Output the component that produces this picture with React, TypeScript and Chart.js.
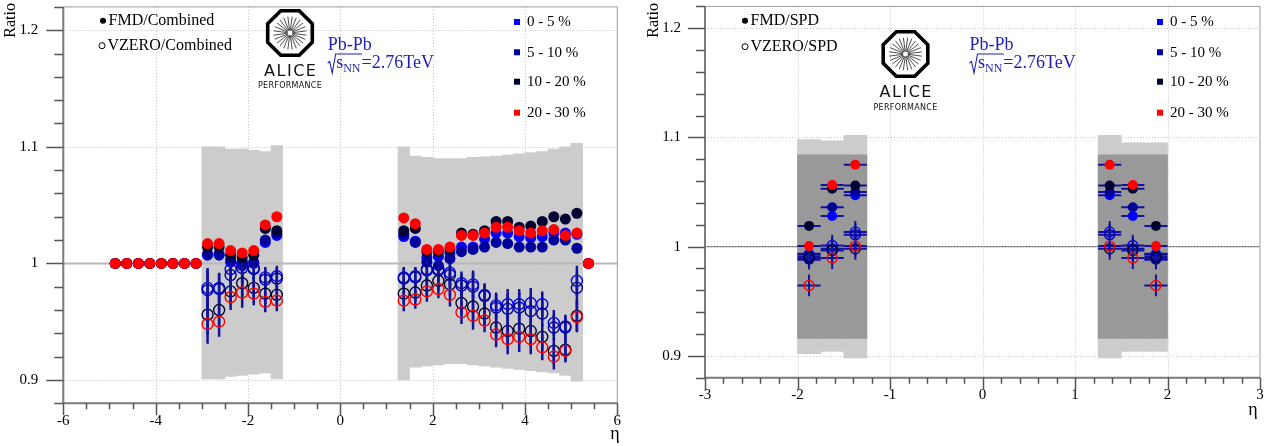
import React, { useEffect, useRef } from "react";
import { Chart, registerables } from "chart.js";

Chart.register(...registerables);

const SERIF = "'Liberation Serif', 'Times New Roman', serif";
const SANS = "'DejaVu Sans', 'Liberation Sans', sans-serif";

// ---------- common ----------
const centralityLabels = ["0 - 5 %", "5 - 10 %", "10 - 20 %", "20 - 30 %"];
const centralityColors = ["#0000ff", "#00009a", "#000033", "#ff0000"];
const errorColor = "#12129c";
const yTickValues = [0.9, 1.0, 1.1, 1.2];

// ---------- left panel: ratio to Combined ----------
const leftXTicks = [-6, -4, -2, 0, 2, 4, 6];
const leftUnityX = [-6, 6];
const fmdOnlyEta = [-4.875, -4.625, -4.375, -4.125, -3.875, -3.625, -3.375, -3.125, 5.375];
const fmdOnlyRatio = [1, 1, 1, 1, 1, 1, 1, 1, 1];
const etaNeg = [-2.875, -2.625, -2.375, -2.125, -1.875, -1.625, -1.375];
const etaPos = [1.375, 1.625, 1.875, 2.125, 2.375, 2.625, 2.875, 3.125, 3.375, 3.625, 3.875, 4.125, 4.375, 4.625, 4.875, 5.125];

const sysUpNeg = [0.1, 0.1, 0.098, 0.098, 0.097, 0.096, 0.101];
const sysDownNeg = [0.099, 0.099, 0.097, 0.096, 0.095, 0.094, 0.099];
const sysUpPos = [0.1, 0.092, 0.091, 0.09, 0.09, 0.09, 0.091, 0.0915, 0.092, 0.093, 0.094, 0.095, 0.096, 0.098, 0.1, 0.103];
const sysDownPos = [0.1, 0.089, 0.088, 0.087, 0.086, 0.086, 0.087, 0.088, 0.089, 0.09, 0.091, 0.092, 0.093, 0.094, 0.096, 0.101];

const fmdNeg0to5 = [1.007, 1.007, 1.001, 0.998, 1.0, 1.018, 1.024];
const fmdNeg5to10 = [1.008, 1.008, 1.003, 0.999, 1.001, 1.02, 1.026];
const fmdNeg10to20 = [1.014, 1.014, 1.007, 1.005, 1.007, 1.03, 1.028];
const fmdNeg20to30 = [1.017, 1.017, 1.011, 1.009, 1.011, 1.033, 1.04];

const fmdPos0to5 = [1.023, 1.019, 1.005, 1.006, 1.009, 1.014, 1.014, 1.021, 1.026, 1.026, 1.023, 1.022, 1.023, 1.026, 1.026, 1.025];
const fmdPos5to10 = [1.025, 1.018, 1.001, 0.998, 1.004, 1.01, 1.012, 1.014, 1.018, 1.017, 1.014, 1.014, 1.014, 1.02, 1.02, 1.013];
const fmdPos10to20 = [1.028, 1.03, 1.01, 1.01, 1.012, 1.026, 1.025, 1.028, 1.036, 1.036, 1.031, 1.032, 1.036, 1.04, 1.038, 1.043];
const fmdPos20to30 = [1.039, 1.034, 1.012, 1.012, 1.014, 1.024, 1.024, 1.026, 1.031, 1.031, 1.028, 1.026, 1.028, 1.029, 1.024, 1.026];

const vzNeg0to5 = [0.979, 0.979, 0.995, 1.0, 0.996, 0.988, 0.989];
const vzNeg5to10 = [0.977, 0.978, 0.99, 0.996, 0.995, 0.986, 0.987];
const vzNeg10to20 = [0.956, 0.96, 0.976, 0.983, 0.979, 0.974, 0.973];
const vzNeg20to30 = [0.948, 0.95, 0.971, 0.975, 0.974, 0.967, 0.968];
const vzErrNeg = [0.017, 0.013, 0.011, 0.013, 0.01, 0.009, 0.009];

const vzPos0to5 = [0.988, 0.989, 0.995, 0.995, 0.992, 0.983, 0.982, 0.973, 0.964, 0.965, 0.965, 0.966, 0.965, 0.949, 0.946, 0.985];
const vzPos5to10 = [0.987, 0.988, 0.994, 0.994, 0.99, 0.981, 0.98, 0.972, 0.962, 0.961, 0.962, 0.959, 0.957, 0.945, 0.945, 0.979];
const vzPos10to20 = [0.974, 0.975, 0.981, 0.985, 0.982, 0.966, 0.963, 0.957, 0.945, 0.942, 0.944, 0.942, 0.937, 0.925, 0.926, 0.955];
const vzPos20to30 = [0.968, 0.969, 0.976, 0.978, 0.973, 0.958, 0.955, 0.951, 0.939, 0.935, 0.937, 0.935, 0.928, 0.92, 0.925, 0.954];
const vzErrPos = [0.009, 0.008, 0.009, 0.008, 0.01, 0.01, 0.012, 0.01, 0.011, 0.013, 0.013, 0.013, 0.011, 0.011, 0.01, 0.013];

// ---------- right panel: ratio to SPD ----------
const rightXTicks = [-3, -2, -1, 0, 1, 2, 3];
const rightUnityX = [-3, 3];
const etaSpd = [-1.875, -1.625, -1.375, 1.375, 1.625, 1.875];
const spdHalfWidth = 0.125;
const spdOuterUp = [0.098, 0.097, 0.102, 0.102, 0.095, 0.095];
const spdOuterDown = [0.098, 0.096, 0.102, 0.102, 0.096, 0.096];
const spdInner = [0.084, 0.084, 0.084, 0.084, 0.084, 0.084];

const fmdSpd0to5 = [0.9935, 1.028, 1.047, 1.047, 1.028, 0.9935];
const fmdSpd5to10 = [0.988, 1.036, 1.05, 1.05, 1.036, 0.988];
const fmdSpd10to20 = [1.019, 1.053, 1.056, 1.056, 1.053, 1.019];
const fmdSpd20to30 = [1.0005, 1.0565, 1.075, 1.075, 1.0565, 1.0005];
const fmdSpdErr = [0.003, 0.003, 0.003, 0.003, 0.003, 0.003];

const vzSpd0to5 = [0.9925, 1.001, 1.0135, 1.0135, 1.001, 0.9925];
const vzSpd5to10 = [0.989, 0.998, 1.011, 1.011, 0.998, 0.989];
const vzSpd10to20 = [0.9905, 0.9965, 0.998, 0.998, 0.9965, 0.9905];
const vzSpd20to30 = [0.9645, 0.9895, 1.0005, 1.0005, 0.9895, 0.9645];
const vzSpdErr = [0.01, 0.01, 0.01, 0.01, 0.01, 0.01];

// ---------- types ----------
interface Band { x: number[]; up: number[]; down: number[]; color: string }
interface Series { x: number[]; y: number[]; ey?: number[]; ex?: number; filled: boolean; color: string; order: number }
interface Deco {
  ratioX: number; etaX: number; etaY: number;
  detLegend: { x: number; y: number; text: string; filled: boolean }[];
  centX: number; centY: number[];
  logo: { cx: number; cy: number; aliceY: number; perfY: number };
  pbX: number; pbY: number; sqrtY: number;
}
interface Panel {
  id: string; width: number; height: number;
  area: { left: number; right: number; top: number; bottom: number };
  xMin: number; xMax: number; xTicks: number[]; xMinor: number;
  yMin: number; yMax: number; yTicks: number[]; yMinor: number;
  xTickLen: number[]; yTickLen: number[]; xLabelPad: number; yLabelPad: number;
  bands: Band[]; unityX: number[]; unityColor: string; unityWidth: number;
  series: Series[]; markerRadius: number; errWidth: number; deco: Deco;
}

const fmdNegSets = [fmdNeg0to5, fmdNeg5to10, fmdNeg10to20, fmdNeg20to30];
const fmdPosSets = [fmdPos0to5, fmdPos5to10, fmdPos10to20, fmdPos20to30];
const vzNegSets = [vzNeg0to5, vzNeg5to10, vzNeg10to20, vzNeg20to30];
const vzPosSets = [vzPos0to5, vzPos5to10, vzPos10to20, vzPos20to30];
const fmdSpdSets = [fmdSpd0to5, fmdSpd5to10, fmdSpd10to20, fmdSpd20to30];
const vzSpdSets = [vzSpd0to5, vzSpd5to10, vzSpd10to20, vzSpd20to30];

const leftSeries: Series[] = [];
const rightSeries: Series[] = [];
for (let c = 0; c < 4; c++) {
  leftSeries.push({
    x: fmdOnlyEta.concat(etaNeg, etaPos), y: fmdOnlyRatio.concat(fmdNegSets[c], fmdPosSets[c]),
    filled: true, color: centralityColors[c], order: 100 - c * 10,
  });
  leftSeries.push({
    x: etaNeg.concat(etaPos), y: vzNegSets[c].concat(vzPosSets[c]), ey: vzErrNeg.concat(vzErrPos),
    filled: false, color: centralityColors[c], order: 95 - c * 10,
  });
  rightSeries.push({ x: etaSpd, y: fmdSpdSets[c], ey: fmdSpdErr, ex: spdHalfWidth, filled: true, color: centralityColors[c], order: 100 - c * 10 });
  rightSeries.push({ x: etaSpd, y: vzSpdSets[c], ey: vzSpdErr, ex: spdHalfWidth, filled: false, color: centralityColors[c], order: 95 - c * 10 });
}

const leftPanel: Panel = {
  id: "left", width: 640, height: 446,
  area: { left: 63.3, right: 617.3, top: 3.3, bottom: 403.3 },
  xMin: -6, xMax: 6, xTicks: leftXTicks, xMinor: 0.5,
  yMin: 0.88, yMax: 1.22, yTicks: yTickValues, yMinor: 0.02,
  xTickLen: [12, 6], yTickLen: [17, 9], xLabelPad: 9, yLabelPad: 25,
  bands: [{ x: etaNeg.concat(etaPos), up: sysUpNeg.concat(sysUpPos), down: sysDownNeg.concat(sysDownPos), color: "#cccccc" }],
  unityX: leftUnityX, unityColor: "#b8b8b8", unityWidth: 2,
  series: leftSeries, markerRadius: 5.5, errWidth: 2.5,
  deco: {
    ratioX: 10.5, etaX: 615, etaY: 434,
    detLegend: [
      { x: 103, y: 20.7, text: "FMD/Combined", filled: true },
      { x: 102, y: 45.7, text: "VZERO/Combined", filled: false },
    ],
    centX: 517, centY: [22, 52.3, 81.7, 112.7],
    logo: { cx: 290, cy: 33, aliceY: 75.7, perfY: 88.3 },
    pbX: 327.7, pbY: 50, sqrtY: 68,
  },
};

const rightPanel: Panel = {
  id: "right", width: 641, height: 446,
  area: { left: 65, right: 620, top: 3.3, bottom: 377.7 },
  xMin: -3, xMax: 3, xTicks: rightXTicks, xMinor: 0.2,
  yMin: 0.88, yMax: 1.22, yTicks: yTickValues, yMinor: 0.02,
  xTickLen: [12, 6], yTickLen: [17, 9], xLabelPad: 8, yLabelPad: 24,
  bands: [
    { x: etaSpd, up: spdOuterUp, down: spdOuterDown, color: "#cccccc" },
    { x: etaSpd, up: spdInner, down: spdInner, color: "#999999" },
  ],
  unityX: rightUnityX, unityColor: "#7a7a7a", unityWidth: 1,
  series: rightSeries, markerRadius: 5, errWidth: 2,
  deco: {
    ratioX: 14, etaX: 613, etaY: 410,
    detLegend: [
      { x: 105, y: 20.7, text: "FMD/SPD", filled: true },
      { x: 105, y: 46.7, text: "VZERO/SPD", filled: false },
    ],
    centX: 520, centY: [22, 52.3, 81.7, 112.7],
    logo: { cx: 265.5, cy: 54, aliceY: 97, perfY: 109.5 },
    pbX: 329.5, pbY: 50, sqrtY: 68,
  },
};

// ---------- drawing helpers ----------
function drawAlice(ctx: CanvasRenderingContext2D, l: Deco["logo"]) {
  const { cx, cy } = l;
  const ap = 22.3; // apothem of octagon path
  const R = ap / Math.cos(Math.PI / 8);
  ctx.save();
  ctx.strokeStyle = "#000";
  ctx.lineWidth = 3.6;
  ctx.lineJoin = "miter";
  ctx.beginPath();
  for (let k = 0; k < 8; k++) {
    const a = Math.PI / 8 + (k * Math.PI) / 4;
    const px = cx + R * Math.cos(a);
    const py = cy + R * Math.sin(a);
    if (k === 0) ctx.moveTo(px, py); else ctx.lineTo(px, py);
  }
  ctx.closePath();
  ctx.stroke();
  ctx.lineWidth = 0.8;
  ctx.strokeStyle = "#222";
  ctx.beginPath();
  for (let k = 0; k < 24; k++) {
    const a = (k * Math.PI) / 12 + Math.PI / 24;
    ctx.moveTo(cx + 2.5 * Math.cos(a), cy + 2.5 * Math.sin(a));
    ctx.lineTo(cx + 16.5 * Math.cos(a), cy + 16.5 * Math.sin(a));
  }
  ctx.stroke();
  ctx.fillStyle = "#111";
  ctx.textAlign = "center";
  ctx.textBaseline = "alphabetic";
  ctx.font = `16px ${SANS}`;
  (ctx as any).letterSpacing = "1.5px";
  ctx.fillText("ALICE", cx + 0.75, l.aliceY);
  ctx.font = `8px ${SANS}`;
  (ctx as any).letterSpacing = "0.3px";
  ctx.fillText("PERFORMANCE", cx, l.perfY);
  (ctx as any).letterSpacing = "0px";
  ctx.restore();
}

function drawCollision(ctx: CanvasRenderingContext2D, d: Deco) {
  const col = "#1e1eb4";
  ctx.save();
  ctx.fillStyle = col;
  ctx.strokeStyle = col;
  ctx.textAlign = "left";
  ctx.textBaseline = "alphabetic";
  ctx.font = `18px ${SERIF}`;
  ctx.fillText("Pb-Pb", d.pbX, d.pbY);
  const x = d.pbX;
  const base = d.sqrtY;
  ctx.font = `18px ${SERIF}`;
  const sW = ctx.measureText("s").width;
  ctx.font = `12px ${SERIF}`;
  const nnW = ctx.measureText("NN").width;
  const rx = x + 8;
  ctx.lineWidth = 1.1;
  ctx.beginPath();
  ctx.moveTo(x, base - 5);
  ctx.lineTo(x + 2, base - 6.5);
  ctx.lineTo(x + 4.5, base + 5);
  ctx.lineTo(rx, base - 14);
  ctx.lineTo(rx + sW + nnW + 2, base - 14);
  ctx.stroke();
  ctx.font = `18px ${SERIF}`;
  ctx.fillText("s", rx + 0.5, base);
  ctx.font = `12px ${SERIF}`;
  ctx.fillText("NN", rx + 0.5 + sW, base + 3.5);
  ctx.font = `18px ${SERIF}`;
  ctx.fillText("=2.76TeV", rx + 1.5 + sW + nnW, base);
  ctx.restore();
}

function makePlugin(p: Panel) {
  return {
    id: "rootStyle_" + p.id,
    beforeDatasetsDraw(chart: any) {
      const ctx: CanvasRenderingContext2D = chart.ctx;
      const xs = chart.scales.x, ys = chart.scales.y;
      const a = chart.chartArea;
      ctx.save();
      ctx.strokeStyle = "#c4c4c4";
      ctx.lineWidth = 1;
      ctx.setLineDash([1, 2]);
      ctx.beginPath();
      p.xTicks.forEach((v) => {
        if (v <= p.xMin || v >= p.xMax) return;
        const px = Math.round(xs.getPixelForValue(v)) + 0.5;
        ctx.moveTo(px, a.top); ctx.lineTo(px, a.bottom);
      });
      p.yTicks.forEach((v) => {
        const py = Math.round(ys.getPixelForValue(v)) + 0.5;
        ctx.moveTo(a.left, py); ctx.lineTo(a.right, py);
      });
      ctx.stroke();
      ctx.restore();
    },
    beforeDatasetDraw(chart: any, args: any) {
      const ds = chart.data.datasets[args.index];
      if (!ds.errInfo) return;
      const ctx: CanvasRenderingContext2D = chart.ctx;
      const xs = chart.scales.x, ys = chart.scales.y;
      const a = chart.chartArea;
      ctx.save();
      ctx.beginPath();
      ctx.rect(a.left, a.top, a.right - a.left, a.bottom - a.top);
      ctx.clip();
      ctx.strokeStyle = errorColor;
      ctx.lineWidth = p.errWidth;
      ctx.beginPath();
      ds.data.forEach((d: any) => {
        const px = xs.getPixelForValue(d.x);
        const py = ys.getPixelForValue(d.y);
        if (d.ey) {
          ctx.moveTo(px, ys.getPixelForValue(d.y - d.ey));
          ctx.lineTo(px, ys.getPixelForValue(d.y + d.ey));
        }
        if (d.ex) {
          ctx.moveTo(xs.getPixelForValue(d.x - d.ex), py);
          ctx.lineTo(xs.getPixelForValue(d.x + d.ex), py);
        }
      });
      ctx.stroke();
      ctx.restore();
    },
    afterDatasetsDraw(chart: any) {
      const ctx: CanvasRenderingContext2D = chart.ctx;
      const xs = chart.scales.x, ys = chart.scales.y;
      const a = chart.chartArea;
      ctx.save();
      // frame
      ctx.strokeStyle = "#9c9c9c";
      ctx.lineWidth = 1;
      ctx.strokeRect(a.left, a.top, a.right - a.left, a.bottom - a.top);
      // axes
      ctx.strokeStyle = "#7c7c7c";
      ctx.lineWidth = 2;
      ctx.beginPath();
      ctx.moveTo(a.left, a.top); ctx.lineTo(a.left, a.bottom + 1);
      ctx.moveTo(a.left - 1, a.bottom); ctx.lineTo(a.right, a.bottom);
      ctx.stroke();
      // ticks
      ctx.strokeStyle = "#555";
      ctx.lineWidth = 1.5;
      ctx.beginPath();
      const near = (v: number, arr: number[], step: number) => arr.some((m) => Math.abs(m - v) < step / 10);
      for (let n = Math.ceil(p.yMin / p.yMinor - 1e-6); n <= Math.floor(p.yMax / p.yMinor + 1e-6); n++) {
        const v = n * p.yMinor;
        const major = near(v, p.yTicks, p.yMinor);
        const py = Math.round(ys.getPixelForValue(v)) + 0.5;
        ctx.moveTo(a.left - (major ? p.yTickLen[0] : p.yTickLen[1]), py);
        ctx.lineTo(a.left, py);
      }
      for (let n = Math.ceil(p.xMin / p.xMinor - 1e-6); n <= Math.floor(p.xMax / p.xMinor + 1e-6); n++) {
        const v = n * p.xMinor;
        const major = near(v, p.xTicks, p.xMinor);
        const px = Math.round(xs.getPixelForValue(v)) + 0.5;
        ctx.moveTo(px, a.bottom);
        ctx.lineTo(px, a.bottom + (major ? p.xTickLen[0] : p.xTickLen[1]));
      }
      ctx.stroke();
      ctx.restore();
    },
    afterDraw(chart: any) {
      const ctx: CanvasRenderingContext2D = chart.ctx;
      const d = p.deco;
      ctx.save();
      ctx.fillStyle = "#000";
      // Ratio
      ctx.save();
      ctx.translate(d.ratioX, 3);
      ctx.rotate(-Math.PI / 2);
      ctx.font = `16px ${SERIF}`;
      ctx.textAlign = "right";
      ctx.textBaseline = "middle";
      ctx.fillText("Ratio", 0, 0);
      ctx.restore();
      // eta
      ctx.font = `18px ${SERIF}`;
      ctx.textAlign = "center";
      ctx.textBaseline = "middle";
      ctx.fillText("η", d.etaX, d.etaY);
      // detector legend
      ctx.textAlign = "left";
      ctx.font = `16px ${SERIF}`;
      d.detLegend.forEach((e) => {
        ctx.beginPath();
        ctx.arc(e.x, e.y, 3, 0, Math.PI * 2);
        if (e.filled) { ctx.fillStyle = "#000"; ctx.fill(); }
        else { ctx.strokeStyle = "#000"; ctx.lineWidth = 1; ctx.stroke(); }
        ctx.fillStyle = "#000";
        ctx.fillText(e.text, e.x + 5.5, e.y + 0.5);
      });
      // centrality legend
      ctx.font = `15px ${SERIF}`;
      centralityLabels.forEach((lab, i) => {
        ctx.fillStyle = centralityColors[i];
        ctx.fillRect(d.centX - 3, d.centY[i] - 3, 6, 6);
        ctx.fillStyle = "#000";
        ctx.fillText(lab, d.centX + 10, d.centY[i] + 0.5);
      });
      ctx.restore();
      drawAlice(ctx, d.logo);
      drawCollision(ctx, d);
    },
  };
}

function buildConfig(p: Panel): any {
  const datasets: any[] = [];
  p.bands.forEach((b, k) => {
    datasets.push({
      type: "bar",
      data: b.x.map((x, i) => ({ x, y: [1 - b.down[i], 1 + b.up[i]] })),
      backgroundColor: b.color,
      borderWidth: 0,
      barPercentage: 1,
      categoryPercentage: 1,
      grouped: false,
      order: 1000 - k,
    });
  });
  datasets.push({
    type: "line",
    data: p.unityX.map((x) => ({ x, y: 1 })),
    borderColor: p.unityColor,
    borderWidth: p.unityWidth,
    pointRadius: 0,
    fill: false,
    order: 900,
  });
  p.series.forEach((s) => {
    datasets.push({
      type: "scatter",
      data: s.x.map((x, i) => ({ x, y: s.y[i], ey: s.ey ? s.ey[i] : 0, ex: s.ex || 0 })),
      errInfo: !!(s.ey || s.ex),
      pointStyle: "circle",
      pointRadius: p.markerRadius,
      pointHoverRadius: p.markerRadius,
      pointBackgroundColor: s.filled ? s.color : "rgba(0,0,0,0)",
      pointBorderColor: s.color,
      pointBorderWidth: s.filled ? 0 : 1.4,
      showLine: false,
      order: s.order,
    });
  });

  const fmt = (v: number) => String(Math.round(v * 10) / 10);
  const font = { family: SERIF, size: 15 };

  return {
    type: "scatter",
    data: { datasets },
    plugins: [makePlugin(p)],
    options: {
      responsive: false,
      animation: false,
      events: [],
      devicePixelRatio: 1,
      layout: { padding: { left: 0, top: p.area.top, right: p.width - p.area.right, bottom: 0 } },
      plugins: { legend: { display: false }, tooltip: { enabled: false }, title: { display: false } },
      scales: {
        x: {
          type: "linear", min: p.xMin, max: p.xMax, offset: false,
          grid: { display: false, drawTicks: false, offset: false },
          border: { display: false },
          ticks: { font, color: "#000", padding: p.xLabelPad, maxRotation: 0, autoSkip: false, callback: (v: number) => fmt(v) },
          afterBuildTicks: (s: any) => { s.ticks = p.xTicks.map((v) => ({ value: v })); },
          afterFit: (s: any) => {
            s.height = p.height - p.area.bottom;
            s.paddingLeft = 0; s.paddingRight = 0; s.paddingTop = 0; s.paddingBottom = 0;
          },
        },
        y: {
          type: "linear", min: p.yMin, max: p.yMax, beginAtZero: false,
          grid: { display: false, drawTicks: false },
          border: { display: false },
          ticks: { font, color: "#000", padding: p.yLabelPad, autoSkip: false, callback: (v: number) => fmt(v) },
          afterBuildTicks: (s: any) => { s.ticks = p.yTicks.map((v) => ({ value: v })); },
          afterFit: (s: any) => {
            s.width = p.area.left;
            s.paddingLeft = 0; s.paddingRight = 0; s.paddingTop = 0; s.paddingBottom = 0;
          },
        },
      },
    },
  };
}

export default function App() {
  const leftRef = useRef<HTMLCanvasElement>(null);
  const rightRef = useRef<HTMLCanvasElement>(null);
  useEffect(() => {
    const c1 = new Chart(leftRef.current as HTMLCanvasElement, buildConfig(leftPanel));
    const c2 = new Chart(rightRef.current as HTMLCanvasElement, buildConfig(rightPanel));
    return () => {
      c1.destroy();
      c2.destroy();
    };
  }, []);
  return (
    <div style={{ position: "absolute", left: 0, top: 0, width: 1281, height: 446, background: "#ffffff", overflow: "hidden" }}>
      <canvas ref={leftRef} width={640} height={446} style={{ position: "absolute", left: 0, top: 0, width: 640, height: 446 }} />
      <canvas ref={rightRef} width={641} height={446} style={{ position: "absolute", left: 640, top: 0, width: 641, height: 446 }} />
    </div>
  );
}
